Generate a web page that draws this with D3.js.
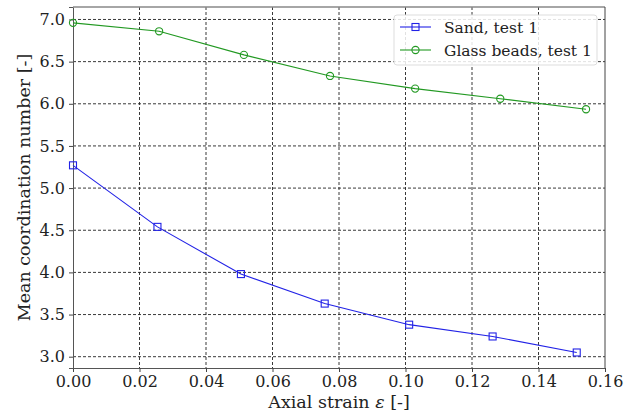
<!DOCTYPE html>
<html>
<head>
<meta charset="utf-8">
<script src="https://cdn.jsdelivr.net/npm/d3@7"></script>
<style>
  body { margin: 0; background: #fff; }
  svg { font-family: "DejaVu Serif", serif; }
</style>
</head>
<body>
<div id="chart"></div>
<script>
// axial strain values
var sandStrain = [0.0, 0.0254, 0.0505, 0.0757, 0.1011, 0.1262, 0.1515];
var sandCN = [5.27, 4.54, 3.98, 3.63, 3.38, 3.24, 3.05];
var glassStrain = [0.0, 0.0259, 0.0514, 0.0773, 0.1029, 0.1285, 0.1543];
var glassCN = [6.96, 6.86, 6.58, 6.33, 6.18, 6.06, 5.935];
var xTicks = [0, 0.02, 0.04, 0.06, 0.08, 0.10, 0.12, 0.14, 0.16];
var yTicks = [3.0, 3.5, 4.0, 4.5, 5.0, 5.5, 6.0, 6.5, 7.0];
var seriesNames = ["Sand, test 1", "Glass beads, test 1"];
var seriesColors = ["#2222e6", "#229922"];

var width = 637, height = 411;
var margin = { top: 7, right: 32, bottom: 43, left: 73 };

var svg = d3.select("#chart").append("svg")
    .attr("width", width)
    .attr("height", height);

var x = d3.scaleLinear().domain([0, 0.16]).range([margin.left, width - margin.right]);
var y = d3.scaleLinear().domain([2.866, 7.148]).range([height - margin.bottom, margin.top]);

// grid
svg.append("g").selectAll("line.gx")
    .data(xTicks.slice(1, -1))
    .join("line")
    .attr("x1", d => x(d)).attr("x2", d => x(d))
    .attr("y1", margin.top).attr("y2", height - margin.bottom)
    .attr("stroke", "#222").attr("stroke-width", 0.9)
    .attr("stroke-dasharray", "3,2");

svg.append("g").selectAll("line.gy")
    .data(yTicks)
    .join("line")
    .attr("x1", margin.left).attr("x2", width - margin.right)
    .attr("y1", d => y(d)).attr("y2", d => y(d))
    .attr("stroke", "#222").attr("stroke-width", 0.9)
    .attr("stroke-dasharray", "3,2");

// axes
var xAxis = svg.append("g")
    .attr("transform", `translate(0, ${height - margin.bottom})`)
    .call(d3.axisBottom(x).tickValues(xTicks).tickFormat(d3.format(".2f")).tickSizeOuter(0).tickSize(4).tickPadding(4));

var yAxis = svg.append("g")
    .attr("transform", `translate(${margin.left}, 0)`)
    .call(d3.axisLeft(y).tickValues(yTicks).tickFormat(d3.format(".1f")).tickSizeOuter(0).tickSize(4).tickPadding(4));

[xAxis, yAxis].forEach(function (a) {
    a.attr("font-family", "DejaVu Serif").attr("font-size", 16);
    a.selectAll(".tick text").attr("fill", "#222");
    a.select(".domain").attr("stroke", "#555");
    a.selectAll(".tick line").attr("stroke", "#444");
});

// top and right spines
svg.append("line")
    .attr("x1", margin.left).attr("x2", width - margin.right)
    .attr("y1", margin.top).attr("y2", margin.top)
    .attr("stroke", "#888").attr("stroke-width", 1.5);
svg.append("line")
    .attr("x1", width - margin.right).attr("x2", width - margin.right)
    .attr("y1", margin.top).attr("y2", height - margin.bottom)
    .attr("stroke", "#444");

// axis labels
svg.append("text")
    .attr("x", x(0.08))
    .attr("y", height - 3)
    .attr("text-anchor", "middle")
    .attr("font-size", 17.5)
    .attr("fill", "#222")
    .html("Axial strain <tspan font-style='italic'>ε</tspan> [-]");

svg.append("text")
    .attr("transform", `translate(30, ${(margin.top + height - margin.bottom) / 2}) rotate(-90)`)
    .attr("text-anchor", "middle")
    .attr("font-size", 17.5)
    .attr("fill", "#222")
    .text("Mean coordination number [-]");

var line = d3.line().x(d => x(d[0])).y(d => y(d[1]));

var sandData = d3.zip(sandStrain, sandCN);
var glassData = d3.zip(glassStrain, glassCN);

svg.append("path")
    .datum(sandData)
    .attr("fill", "none")
    .attr("stroke", seriesColors[0])
    .attr("stroke-width", 1.1)
    .attr("d", line);

svg.append("g").selectAll("rect")
    .data(sandData)
    .join("rect")
    .attr("x", d => x(d[0]) - 3.5)
    .attr("y", d => y(d[1]) - 3.5)
    .attr("width", 7).attr("height", 7)
    .attr("fill", "none")
    .attr("stroke", seriesColors[0])
    .attr("stroke-width", 1.1);

svg.append("path")
    .datum(glassData)
    .attr("fill", "none")
    .attr("stroke", seriesColors[1])
    .attr("stroke-width", 1.1)
    .attr("d", line);

svg.append("g").selectAll("circle")
    .data(glassData)
    .join("circle")
    .attr("cx", d => x(d[0]))
    .attr("cy", d => y(d[1]))
    .attr("r", 3.6)
    .attr("fill", "none")
    .attr("stroke", seriesColors[1])
    .attr("stroke-width", 1.1);

// legend
var legend = svg.append("g").attr("transform", "translate(394, 15)");
legend.append("rect")
    .attr("width", 203).attr("height", 50)
    .attr("rx", 3)
    .attr("fill", "#fff")
    .attr("fill-opacity", 0.85)
    .attr("stroke", "#ddd");

seriesNames.forEach(function (name, i) {
    var ly = 12 + i * 23;
    legend.append("line")
        .attr("x1", 6).attr("x2", 37)
        .attr("y1", ly).attr("y2", ly)
        .attr("stroke", seriesColors[i]).attr("stroke-width", 1.1);
    if (i === 0) {
        legend.append("rect")
            .attr("x", 18).attr("y", ly - 3.5)
            .attr("width", 7).attr("height", 7)
            .attr("fill", "none").attr("stroke", seriesColors[i]).attr("stroke-width", 1.1);
    } else {
        legend.append("circle")
            .attr("cx", 21.5).attr("cy", ly).attr("r", 3.6)
            .attr("fill", "none").attr("stroke", seriesColors[i]).attr("stroke-width", 1.1);
    }
    legend.append("text")
        .attr("x", 50).attr("y", ly + 5.5)
        .attr("font-size", 15.5)
        .attr("fill", "#222")
        .text(name);
});
</script>
</body>
</html>
